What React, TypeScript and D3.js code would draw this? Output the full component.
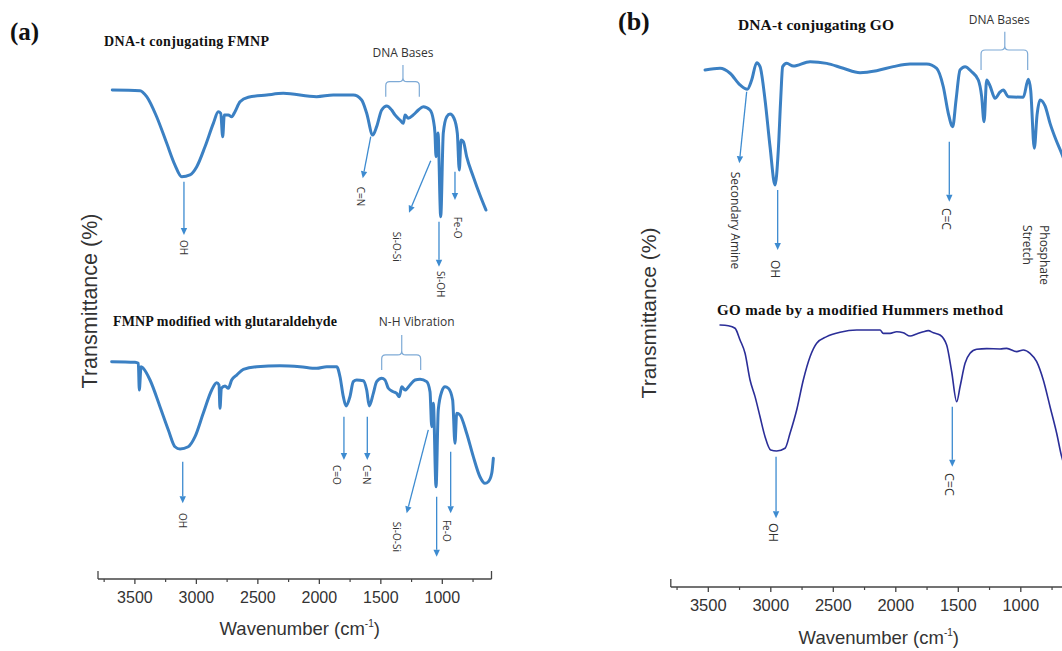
import React from 'react';
import * as d3 from 'd3';

// ---------- Data ----------
// (a) top: DNA-t conjugating FMNP
const fmnpDnaWavenumber = [3684, 3458, 3404, 3323, 3241, 3174, 3119, 3052, 2997, 2930, 2862, 2822, 2802, 2786, 2773, 2740, 2713, 2686, 2645, 2578, 2428, 2293, 2022, 1887, 1724, 1656, 1615, 1566, 1534, 1493, 1452, 1412, 1385, 1344, 1317, 1303, 1277, 1236, 1195, 1155, 1100, 1073, 1060, 1051, 1035, 1013, 992, 964, 937, 905, 878, 862, 848, 829, 802, 748, 694, 645];
const fmnpDnaTransmittance = [93.3, 92.9, 88.9, 75.5, 57.8, 43.3, 35.5, 36.7, 42.2, 55.5, 71.1, 78.9, 77.8, 62.2, 76.7, 76.7, 75.5, 78.9, 85.5, 88.5, 90, 91.1, 88.9, 90, 90, 86.7, 77.8, 63.3, 68.9, 80, 82.7, 80, 76.7, 73.3, 71.1, 76.7, 74.5, 76.7, 80, 82.2, 80, 73.3, 64.7, 48.9, 64.7, 8.9, 64.7, 75.5, 77.3, 74.5, 64.5, 40, 60, 58.9, 48.9, 35.5, 23.3, 13.3];

// (a) bottom: FMNP modified with glutaraldehyde
const fmnpGluWavenumber = [3689, 3499, 3472, 3464, 3450, 3432, 3377, 3296, 3228, 3174, 3133, 3066, 3011, 2944, 2875, 2835, 2816, 2808, 2797, 2767, 2740, 2713, 2672, 2618, 2509, 2320, 2157, 2022, 1940, 1859, 1832, 1805, 1783, 1751, 1724, 1696, 1643, 1615, 1594, 1561, 1534, 1493, 1466, 1439, 1399, 1371, 1350, 1330, 1303, 1263, 1222, 1181, 1127, 1100, 1086, 1073, 1051, 1033, 1005, 978, 951, 916, 897, 883, 856, 802, 748, 694, 653, 626, 598, 585];
const fmnpGluTransmittance = [92.2, 91.8, 91.1, 73.3, 88.9, 87.8, 80, 62.2, 46.7, 35.5, 34, 35.5, 42.2, 57.8, 73.3, 78.2, 76.7, 61.1, 74.5, 76, 74.5, 80, 83.3, 87.1, 88.9, 89.5, 88.9, 87.8, 88.9, 88.9, 82.2, 68.9, 62.7, 68.9, 78.9, 80, 79.5, 73.3, 62.7, 71.1, 78.9, 81.1, 80, 74.5, 72.2, 71.1, 68.9, 75.5, 73.3, 76.7, 80, 80.5, 78.9, 72.2, 48.9, 64.5, 8.9, 60, 72.2, 75.5, 74.5, 66.7, 37.8, 57.8, 56.7, 44.5, 28.9, 15.5, 11.1, 12.2, 17.8, 27.8];

// (b) top: DNA-t conjugating GO
const goDnaWavenumber = [3526, 3406, 3326, 3246, 3188, 3153, 3113, 3086, 3046, 3006, 2966, 2940, 2921, 2905, 2873, 2820, 2686, 2553, 2420, 2286, 2153, 2020, 1886, 1753, 1673, 1620, 1580, 1545, 1518, 1486, 1446, 1393, 1340, 1313, 1294, 1273, 1246, 1206, 1166, 1140, 1100, 980, 940, 921, 892, 870, 846, 806, 766, 718, 673, 638];
const goDnaTransmittance = [86.7, 87.8, 84.5, 76.7, 73.8, 80, 91.5, 88.9, 66.7, 35.5, 10, 33.3, 66.7, 88.9, 91.1, 89.3, 92.2, 91.1, 87.8, 84.9, 86.2, 88.9, 90.7, 90.7, 87.8, 75.5, 57.8, 48.9, 66.7, 86.7, 88.9, 85.5, 80, 68.9, 52.2, 80, 76, 67.8, 72, 73.3, 68.9, 68.5, 80.5, 73.3, 34.5, 56.7, 66.7, 62.7, 51.1, 40, 31.1, 23.3];

// (b) bottom: GO made by a modified Hummers method
const goWavenumber = [3406, 3340, 3286, 3246, 3206, 3166, 3126, 3086, 3046, 3001, 2953, 2886, 2846, 2793, 2740, 2686, 2633, 2553, 2446, 2313, 2126, 2100, 2046, 1993, 1940, 1886, 1833, 1780, 1740, 1700, 1646, 1593, 1553, 1513, 1486, 1446, 1406, 1353, 1273, 1166, 1113, 1033, 980, 926, 873, 820, 766, 713, 673, 638];
const goTransmittance = [96.7, 96.2, 94.5, 86.7, 77.8, 60, 48.9, 35.5, 22.2, 13.3, 12.7, 14.5, 24.5, 40, 60, 75.5, 84.5, 88.9, 91.8, 93.3, 93.3, 91.1, 91.1, 92.2, 91.5, 89.3, 90.7, 92.2, 92.9, 91.5, 90, 83.3, 65.5, 45.5, 55.5, 71.1, 77.8, 80.5, 80.9, 80.7, 81.1, 78.9, 80, 77.8, 72.2, 60, 42.2, 24.5, 8.9, 0];

// Axis ticks
const majorTicks = [3500, 3000, 2500, 2000, 1500, 1000];
const minorTicks = [3750, 3250, 2750, 2250, 1750, 1250, 750];
const axisDomain = [3800, 600];

// Peak assignments (wavenumber / transmittance units): arrow start, arrow tip, label start
const fmnpDnaPeaks = [
  { label: 'OH', w1: 3101, t1: 32.2, w2: 3101, t2: -3.3, lw: 3101, lt: -6.7 },
  { label: 'C=N', w1: 1582, t1: 62.2, w2: 1647, t2: 34.5, lw: 1664, lt: 28.9 },
  { label: 'Si-O-Si', w1: 1094, t1: 46.2, w2: 1271, t2: 11.5, lw: 1371, lt: -1.1 },
  { label: 'Si-OH', w1: 1027, t1: 5.5, w2: 1027, t2: -24.5, lw: 1011, lt: -27.3 },
  { label: 'Fe-O', w1: 897, t1: 38.9, w2: 897, t2: 20, lw: 870, lt: 8.9 },
];
const fmnpGluPeaks = [
  { label: 'OH', w1: 3111, t1: 25.5, w2: 3111, t2: -2.2, lw: 3111, lt: -8.7 },
  { label: 'C=O', w1: 1800, t1: 55.5, w2: 1800, t2: 26.7, lw: 1859, lt: 23.3 },
  { label: 'C=N', w1: 1610, t1: 55.5, w2: 1610, t2: 26.7, lw: 1615, lt: 23.3 },
  { label: 'Si-O-Si', w1: 1114, t1: 46.7, w2: 1290, t2: -8.9, lw: 1368, lt: -14.5 },
  { label: '', w1: 1046, t1: 2.2, w2: 1046, t2: -37.8, lw: 1046, lt: -40 },
  { label: 'Fe-O', w1: 932, t1: 32.2, w2: 932, t2: -8.9, lw: 959, lt: -13.3 },
];
const goDnaPeaks = [
  { label: 'Secondary Amine', w1: 3193, t1: 72.2, w2: 3252, t2: 24.5, lw: 3286, lt: 18.9 },
  { label: 'OH', w1: 2945, t1: 6.7, w2: 2945, t2: -33.3, lw: 2966, lt: -40 },
  { label: 'C=C', w1: 1572, t1: 38.9, w2: 1572, t2: -1.1, lw: 1593, lt: -5.3 },
];
const goPeaks = [
  { label: 'OH', w1: 2958, t1: 8.9, w2: 2958, t2: -32.2, lw: 2980, lt: -35.3 },
  { label: 'C=C', w1: 1548, t1: 42.2, w2: 1548, t2: 2.2, lw: 1572, lt: -2 },
];
// Braces
const fmnpDnaBrace = { label: 'DNA Bases', wl: 1460, wr: 1187, wc: 1320, wt: 1320, tb: 88.9, th: 98.9, tt: 110, tl: 118.5 };
const fmnpGluBrace = { label: 'N-H Vibration', wl: 1493, wr: 1176, wc: 1330, wt: 1208, tb: 86.7, th: 96.7, tt: 110, tl: 118.9 };
const goDnaBrace = { label: 'DNA Bases', wl: 1318, wr: 945, wc: 1128, wt: 1172, tb: 86.7, th: 100, tt: 112.2, tl: 120.5 };
const goPhosphate = { lines: ['Phosphate', 'Stretch'], w: 878, t: -16.7 };

// ---------- Styles ----------
const BLUE = '#3b80c3';
const NAVY = '#2b2e98';
const ARROW = '#3d8bd0';
const BRACE = '#7eaad6';
const TXT = '#333';
const SANS = '"Liberation Sans", Arial, sans-serif';
const OPEN = '"Open Sans", "DejaVu Sans", sans-serif';
const SERIF = '"Liberation Serif", "Times New Roman", serif';

type Sc = d3.ScaleLinear<number, number>;

function Spectrum({ w, t, x, y, color, width }: { w: number[]; t: number[]; x: Sc; y: Sc; color: string; width: number }) {
  const line = d3
    .line<number>()
    .x((d) => x(d))
    .y((_, i) => y(t[i]))
    .curve(d3.curveMonotoneX);
  return <path d={line(w) || ''} fill="none" stroke={color} strokeWidth={width} strokeLinejoin="round" strokeLinecap="round" />;
}

function Arrow({ x1, y1, x2, y2 }: { x1: number; y1: number; x2: number; y2: number }) {
  const a = Math.atan2(y2 - y1, x2 - x1);
  const L = 7, W = 3.2;
  const bx = x2 - L * Math.cos(a), by = y2 - L * Math.sin(a);
  const p = [
    [x2, y2],
    [bx + W * Math.sin(a), by - W * Math.cos(a)],
    [bx - W * Math.sin(a), by + W * Math.cos(a)],
  ];
  return (
    <g>
      <line x1={x1} y1={y1} x2={bx} y2={by} stroke={ARROW} strokeWidth={1.3} />
      <polygon points={p.map((q) => q.join(',')).join(' ')} fill={ARROW} />
    </g>
  );
}

function Peaks({ peaks, x, y, size }: { peaks: typeof fmnpDnaPeaks; x: Sc; y: Sc; size: number }) {
  return (
    <g>
      {peaks.map((p, i) => (
        <g key={i}>
          <Arrow x1={x(p.w1)} y1={y(p.t1)} x2={x(p.w2)} y2={y(p.t2)} />
          {p.label && (
            <text
              transform={`translate(${x(p.lw)},${y(p.lt)}) rotate(90)`}
              fontFamily={OPEN}
              fontSize={size}
              fill={TXT}
              dominantBaseline="central"
            >
              {p.label}
            </text>
          )}
        </g>
      ))}
    </g>
  );
}

function Brace({ b, x, y, size }: { b: typeof fmnpDnaBrace; x: Sc; y: Sc; size: number }) {
  const xl = x(b.wl), xr = x(b.wr), xc = x(b.wc);
  const yb = y(b.tb), yh = y(b.th), yt = y(b.tt);
  const r = 4;
  const d = `M${xl},${yb} L${xl},${yh + r} Q${xl},${yh} ${xl + r},${yh} L${xc - r},${yh} Q${xc},${yh} ${xc},${yh - r} L${xc},${yt} M${xc},${yh - r} Q${xc},${yh} ${xc + r},${yh} L${xr - r},${yh} Q${xr},${yh} ${xr},${yh + r} L${xr},${yb}`;
  return (
    <g>
      <path d={d} fill="none" stroke={BRACE} strokeWidth={1.2} />
      <text x={x(b.wt)} y={y(b.tl)} textAnchor="middle" dominantBaseline="central" fontFamily={OPEN} fontSize={size} fill={TXT}>
        {b.label}
      </text>
    </g>
  );
}

function Axis({ x, y0, fontSize, labelY, titleY, titleShift }: { x: Sc; y0: number; fontSize: number; labelY: number; titleY: number; titleShift: number }) {
  const [a0, a1] = axisDomain;
  const c = (x(a0) + x(a1)) / 2 + titleShift;
  return (
    <g stroke="#444" fill="none">
      <line x1={x(a0)} x2={x(a1)} y1={y0} y2={y0} strokeWidth={1.3} />
      <line x1={x(a0)} x2={x(a0)} y1={y0} y2={y0 - 8} strokeWidth={1.3} />
      <line x1={x(a1)} x2={x(a1)} y1={y0} y2={y0 - 8} strokeWidth={1.3} />
      {majorTicks.map((t) => (
        <line key={t} x1={x(t)} x2={x(t)} y1={y0} y2={y0 + 5} strokeWidth={1.3} />
      ))}
      {minorTicks.map((t) => (
        <line key={t} x1={x(t)} x2={x(t)} y1={y0} y2={y0 + 3} strokeWidth={1.2} />
      ))}
      {majorTicks.map((t) => (
        <text key={'l' + t} x={x(t)} y={labelY} textAnchor="middle" fontFamily={SANS} fontSize={fontSize} fill={TXT} stroke="none">
          {t}
        </text>
      ))}
      <text x={c} y={titleY} textAnchor="middle" fontFamily={SANS} fontSize={18.5} fill={TXT} stroke="none">
        Wavenumber (cm
        <tspan fontSize={10} dy={-8}>-1</tspan>
        <tspan dy={8}>)</tspan>
      </text>
    </g>
  );
}

export default function App() {
  const xA = d3.scaleLinear().domain(axisDomain).range([98, 491.5]);
  const xB = d3.scaleLinear().domain(axisDomain).range([670.8, 1070.8]);
  const yA1 = d3.scaleLinear().domain([0, 100]).range([230, 80]);
  const yA2 = d3.scaleLinear().domain([0, 100]).range([500, 350]);
  const yB1 = d3.scaleLinear().domain([0, 100]).range([200, 50]);
  const yB2 = d3.scaleLinear().domain([0, 100]).range([470, 320]);

  return (
    <svg width={1062} height={651} style={{ position: 'absolute', left: 0, top: 0, background: '#fff' }}>
      <rect width={1062} height={651} fill="#fff" />
      {/* Panel (a) */}
      <text x={10} y={40} fontFamily={SERIF} fontWeight="bold" fontSize={25} fill="#111">(a)</text>
      <text x={104} y={46} fontFamily={SERIF} fontWeight="bold" fontSize={14} fill="#111" textLength={165}>DNA-t conjugating FMNP</text>
      <text x={113} y={326} fontFamily={SERIF} fontWeight="bold" fontSize={14} fill="#111" textLength={224}>FMNP modified with glutaraldehyde</text>
      <text transform="translate(90,301) rotate(-90)" textAnchor="middle" dominantBaseline="central" fontFamily={SANS} fontSize={21.5} fill={TXT}>
        Transmittance (%)
      </text>
      <Brace b={fmnpDnaBrace} x={xA} y={yA1} size={12} />
      <Brace b={fmnpGluBrace} x={xA} y={yA2} size={12} />
      <Peaks peaks={fmnpDnaPeaks} x={xA} y={yA1} size={10} />
      <Peaks peaks={fmnpGluPeaks} x={xA} y={yA2} size={10} />
      <Spectrum w={fmnpDnaWavenumber} t={fmnpDnaTransmittance} x={xA} y={yA1} color={BLUE} width={3} />
      <Spectrum w={fmnpGluWavenumber} t={fmnpGluTransmittance} x={xA} y={yA2} color={BLUE} width={3} />
      <Axis x={xA} y0={579} fontSize={16} labelY={602.5} titleY={635} titleShift={5} />

      {/* Panel (b) */}
      <text x={618} y={30} fontFamily={SERIF} fontWeight="bold" fontSize={26} fill="#111">(b)</text>
      <text x={738} y={30} fontFamily={SERIF} fontWeight="bold" fontSize={15.5} fill="#111" textLength={156}>DNA-t conjugating GO</text>
      <text x={717} y={315} fontFamily={SERIF} fontWeight="bold" fontSize={15} fill="#111" textLength={286}>GO made by a modified Hummers method</text>
      <text transform="translate(648,313) rotate(-90)" textAnchor="middle" dominantBaseline="central" fontFamily={SANS} fontSize={21} fill={TXT}>
        Transmittance (%)
      </text>
      <Brace b={goDnaBrace} x={xB} y={yB1} size={12} />
      <Peaks peaks={goDnaPeaks} x={xB} y={yB1} size={12} />
      <Peaks peaks={goPeaks} x={xB} y={yB2} size={12.5} />
      <text transform={`translate(${xB(goPhosphate.w)},${yB1(goPhosphate.t)}) rotate(90)`} fontFamily={OPEN} fontSize={12} fill={TXT}>
        <tspan x={0} dy={-4}>{goPhosphate.lines[0]}</tspan>
        <tspan x={0} dy={17}>{goPhosphate.lines[1]}</tspan>
      </text>
      <Spectrum w={goDnaWavenumber} t={goDnaTransmittance} x={xB} y={yB1} color={BLUE} width={3} />
      <Spectrum w={goWavenumber} t={goTransmittance} x={xB} y={yB2} color={NAVY} width={1.6} />
      <Axis x={xB} y0={587} fontSize={16.5} labelY={611} titleY={644} titleShift={8} />
    </svg>
  );
}
